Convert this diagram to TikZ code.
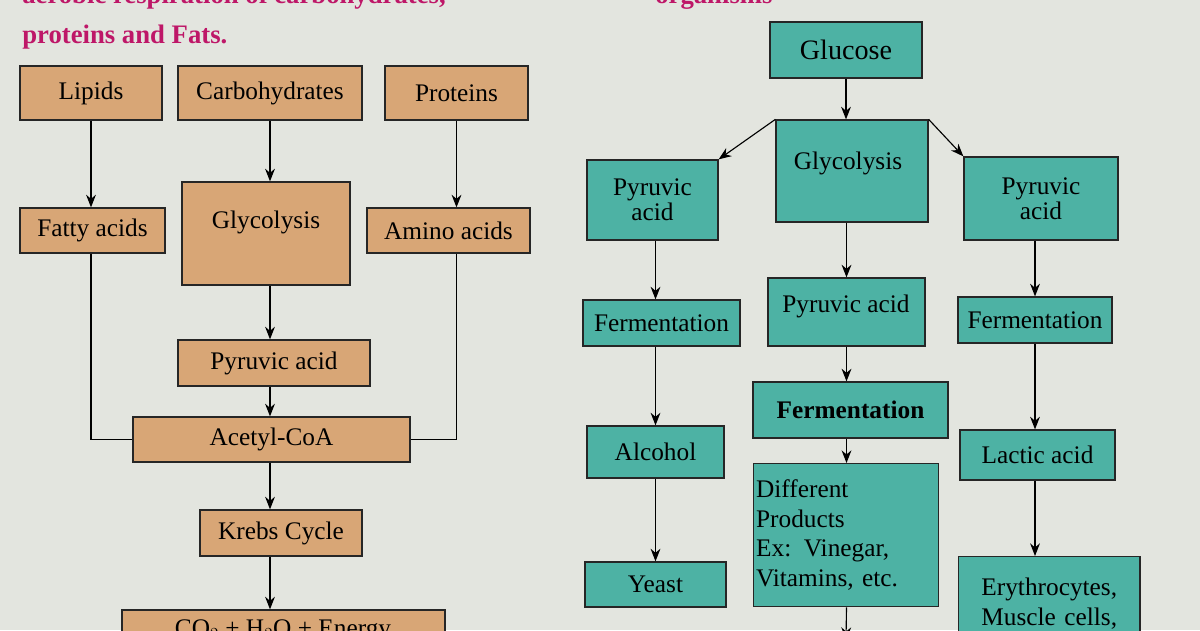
\documentclass[tikz,border=0pt]{standalone}
\usepackage{fontspec}
\setmainfont{Liberation Serif}
\usetikzlibrary{arrows.meta}
\definecolor{bg}{HTML}{E3E5DF}
\definecolor{org}{HTML}{D8A676}
\definecolor{tea}{HTML}{4DB2A4}
\definecolor{mag}{HTML}{BE1768}
\tikzset{
 bx/.style={draw=black!85,line width=0.9pt,inner sep=2pt,font=\fontsize{18}{21}\selectfont,align=center},
 ob/.style={bx,fill=org},
 tb/.style={bx,fill=tea},
 ar/.style={-{Stealth[length=9pt,width=7pt]},line width=0.8pt},
 ln/.style={line width=0.8pt}
}
\newcommand{\bx}[7]{\node[#1,minimum width={(#5-#3)*0.025cm},minimum height={(#6-#4)*0.025cm}] (#2) at ({(#3+#5)/2},{(#4+#6)/2}) {#7};}
\begin{document}
\begin{tikzpicture}[x=0.025cm,y=-0.025cm]
\useasboundingbox (0,0) rectangle (1200,630);
\clip (0,0) rectangle (1200,630);
\fill[bg] (0,0) rectangle (1200,630);
\node[anchor=base west,text=mag,font=\fontsize{19}{22}\selectfont\bfseries,inner sep=0] (h1) at (22,4) {aerobic respiration of carbohydrates,};
\node[anchor=base west,text=mag,font=\fontsize{19}{22}\selectfont\bfseries,inner sep=0] (h2) at (655,4) {organisms};
\node[anchor=base west,text=mag,font=\fontsize{19}{22}\selectfont\bfseries,inner sep=0] (h3) at (22,44) {proteins and Fats.};
% left
\bx{ob}{lip}{20}{66}{162}{120}{Lipids}
\bx{ob}{car}{178}{66}{362}{120}{Carbohydrates}
\bx{ob}{pro}{385}{66}{528}{120}{Proteins}
\bx{ob}{fat}{20}{208}{165}{253}{Fatty acids}
\bx{ob}{gly}{182}{182}{350}{285}{}
\node[font=\fontsize{18}{21}\selectfont] (glyt) at (266,222) {Glycolysis};
\bx{ob}{ami}{367}{208}{530}{253}{Amino acids}
\bx{ob}{pyr}{178}{340}{370}{386}{Pyruvic acid}
\bx{ob}{ace}{133}{417}{410}{462}{Acetyl-CoA}
\bx{ob}{kre}{200}{510}{362}{556}{Krebs Cycle}
\bx{ob}{co}{122}{610}{445}{670}{}
\node[anchor=base,font=\fontsize{18}{21}\selectfont] (cot) at (283,636) {CO$_2$ + H$_2$O + Energy};
\draw[ar] (lip.south) -- (lip.south |- fat.north);
\draw[ar] (car.south) -- (car.south |- gly.north);
\draw[ar] (pro.south) -- (pro.south |- ami.north);
\draw[ar] (car.south |- gly.south) -- (car.south |- pyr.north);
\draw[ar] (car.south |- pyr.south) -- (car.south |- ace.north);
\draw[ar] (car.south |- ace.south) -- (car.south |- kre.north);
\draw[ar] (car.south |- kre.south) -- (car.south |- co.north);
\draw[ln] (lip.south |- fat.south) |- (ace.west);
\draw[ln] (pro.south |- ami.south) |- (ace.east);
% right
\bx{tb}{glu}{770}{22}{922}{78}{\fontsize{20}{22}\selectfont Glucose}
\bx{tb}{rgly}{776}{120}{928}{222}{}
\node[font=\fontsize{18}{21}\selectfont] (rglyt) at (848,163) {Glycolysis};
\bx{tb}{pl}{587}{160}{718}{240}{Pyruvic\\[-3pt]acid}
\bx{tb}{pr}{964}{157}{1118}{240}{Pyruvic\\[-3pt]acid}
\bx{tb}{fl}{583}{300}{740}{346}{Fermentation}
\bx{tb}{pm}{768}{278}{925}{346}{}
\node[font=\fontsize{18}{21}\selectfont] (pmt) at (846,306) {Pyruvic acid};
\bx{tb}{fr}{958}{297}{1112}{343}{Fermentation}
\bx{tb}{fm}{753}{382}{948}{438}{\bfseries Fermentation}
\bx{tb}{alc}{587}{426}{724}{478}{Alcohol}
\bx{tb}{lac}{960}{430}{1115}{480}{Lactic acid}
\node[bx,fill=tea,align=left,anchor=north west,minimum width={185*0.025cm},minimum height={143*0.025cm},text width={180*0.025cm},inner sep=1pt] (dp) at (753,463) {Different\\Products\\Ex: Vinegar,\\Vitamins, etc.};
\bx{tb}{yea}{585}{562}{726}{607}{Yeast}
\node[bx,fill=tea,anchor=north west,minimum width={175*0.025cm},minimum height={120*0.025cm},text width={170*0.025cm},align=center,inner sep=4pt] (ery) at (958,556) {Erythrocytes,\\Muscle cells,\\~};
\coordinate (dpe) at (846,640);
\draw[ar] (glu.south) -- (glu.south |- rgly.north);
\draw[ar] (rgly.north west) -- (pl.north east);
\draw[ar] (rgly.north east) -- (pr.north west);
\draw[ar] (alc.north |- pl.south) -- (alc.north |- fl.north);
\draw[ar] (alc.north |- fl.south) -- (alc.north);
\draw[ar] (alc.south) -- (alc.south |- yea.north);
\draw[ar] (pm.north |- rgly.south) -- (pm.north);
\draw[ar] (pm.south) -- (pm.south |- fm.north);
\draw[ar] (pm.south |- fm.south) -- (pm.south |- dp.north);
\draw[ar] (pm.south |- dp.south) -- (dpe);
\draw[ar] (fr.south |- pr.south) -- (fr.north);
\draw[ar] (fr.south) -- (fr.south |- lac.north);
\draw[ar] (fr.south |- lac.south) -- (fr.south |- ery.north);
\end{tikzpicture}
\end{document}
